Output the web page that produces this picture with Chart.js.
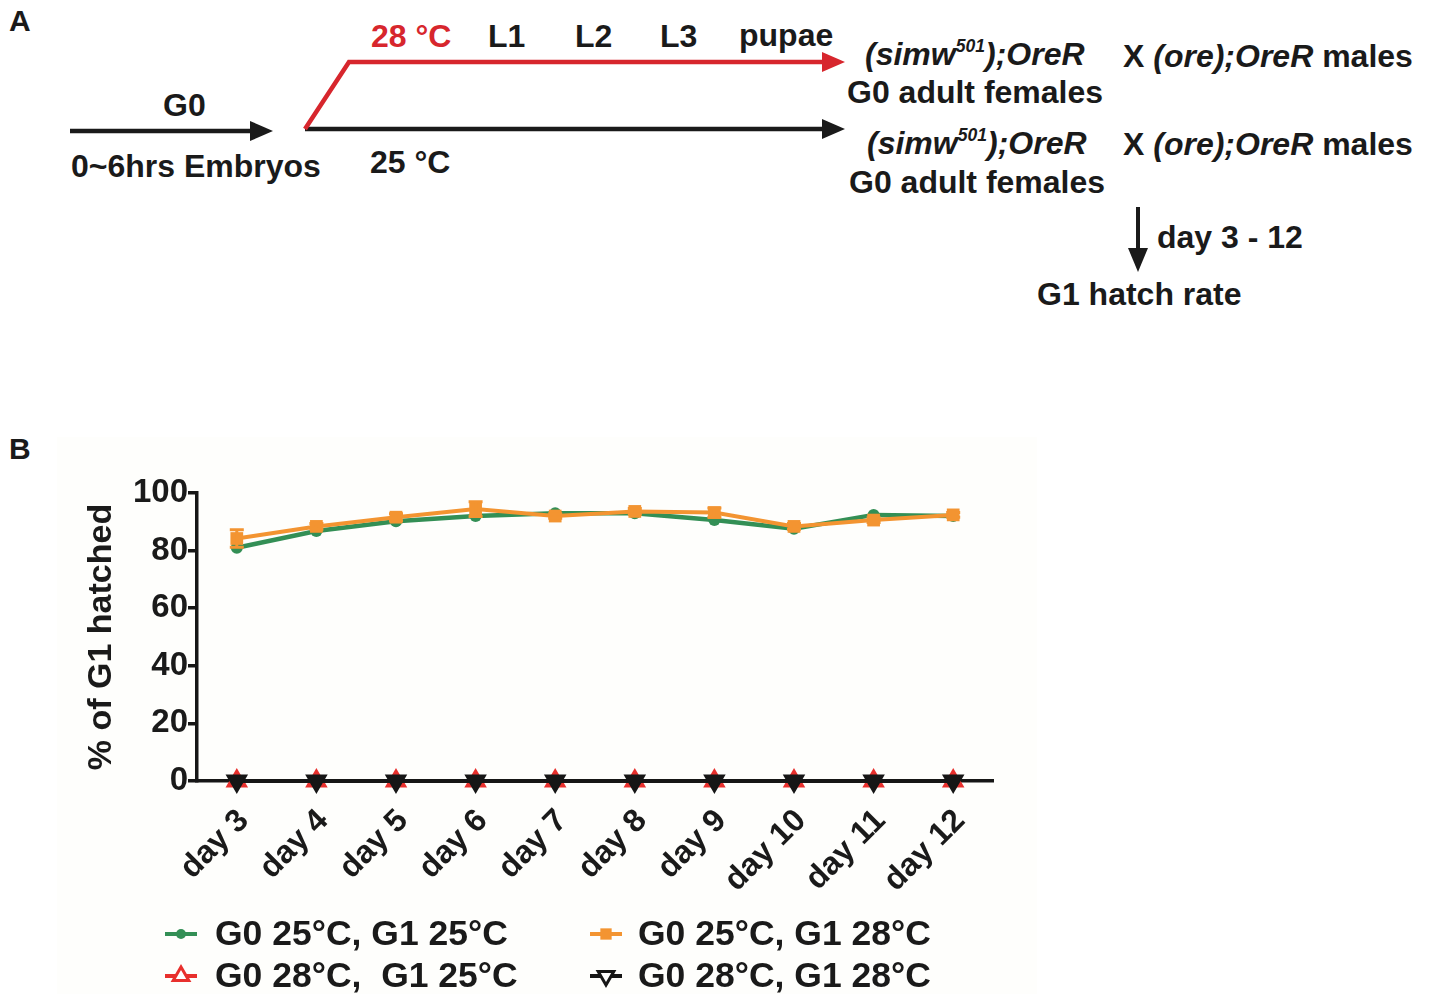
<!DOCTYPE html>
<html>
<head>
<meta charset="utf-8">
<script src="https://cdn.jsdelivr.net/npm/chart.js@4.4.1/dist/chart.umd.min.js"></script>
<style>
  html, body { margin:0; padding:0; background:#fff; }
  body { width:1429px; height:994px; position:relative; overflow:hidden;
         font-family:"Liberation Sans", Arial, sans-serif; font-weight:bold; color:#1a1a1a; }
  .t { position:absolute; white-space:nowrap; line-height:1; font-size:32px; }
  .i { font-style:italic; }
  sup { font-size:0.55em; vertical-align:0.75em; line-height:0; }
  #bg { position:absolute; left:57px; top:437px; width:980px; height:557px; background:#fefefc; }
  #c { position:absolute; left:0; top:440px; }
  svg { position:absolute; left:0; top:0; }
</style>
</head>
<body>
<div id="bg"></div>

<svg width="1429" height="330">
  <line x1="70" y1="131" x2="256" y2="131" stroke="#1a1a1a" stroke-width="4.5"/>
  <polygon points="250,121 273,131 250,141" fill="#1a1a1a"/>
  <line x1="305" y1="129" x2="828" y2="129" stroke="#1a1a1a" stroke-width="4.5"/>
  <polygon points="822,119 845,129 822,139" fill="#1a1a1a"/>
  <polyline points="305,129 349,62 828,62" fill="none" stroke="#d7262d" stroke-width="4.5" stroke-linejoin="miter"/>
  <polygon points="822,52 845,62 822,72" fill="#d7262d"/>
  <line x1="1138" y1="207" x2="1138" y2="255" stroke="#1a1a1a" stroke-width="4"/>
  <polygon points="1128,248 1138,272 1148,248" fill="#1a1a1a"/>
</svg>

<div class="t" style="left:9px;top:6px;font-size:30px;">A</div>
<div class="t" style="left:371px;top:20px;color:#d7262d;">28 °C</div>
<div class="t" style="left:488px;top:20px;">L1</div>
<div class="t" style="left:575px;top:20px;">L2</div>
<div class="t" style="left:660px;top:20px;">L3</div>
<div class="t" style="left:739px;top:19px;">pupae</div>
<div class="t" style="left:163px;top:89px;">G0</div>
<div class="t" style="left:71px;top:150px;">0~6hrs Embryos</div>
<div class="t" style="left:370px;top:146px;">25 °C</div>

<div class="t i" style="left:865px;top:38px;">(simw<sup>501</sup>);OreR</div>
<div class="t" style="left:1123px;top:40px;">X <span class="i">(ore);OreR</span> males</div>
<div class="t" style="left:847px;top:76px;">G0 adult females</div>

<div class="t i" style="left:867px;top:127px;">(simw<sup>501</sup>);OreR</div>
<div class="t" style="left:1123px;top:128px;">X <span class="i">(ore);OreR</span> males</div>
<div class="t" style="left:849px;top:166px;">G0 adult females</div>

<div class="t" style="left:1157px;top:221px;">day 3 - 12</div>
<div class="t" style="left:1037px;top:278px;">G1 hatch rate</div>

<div class="t" style="left:9px;top:434px;font-size:30px;">B</div>

<canvas id="c" width="1020" height="554"></canvas>

<script>
// ---- data ----
const days = ["day 3","day 4","day 5","day 6","day 7","day 8","day 9","day 10","day 11","day 12"];
const g25g25 = [81.0, 86.8, 90.2, 92.0, 93.0, 93.0, 90.6, 87.6, 92.4, 92.0];
const g25g28 = [84.2, 88.4, 91.6, 94.4, 92.0, 93.6, 93.2, 88.4, 90.6, 92.4];
const g25g28Err = [3.0, 1.0, 1.2, 2.6, 0.8, 1.0, 1.6, 1.0, 0.8, 0.8];
const g28g25 = [0, 0, 0, 0, 0, 0, 0, 0, 0, 0];
const g28g28 = [0, 0, 0, 0, 0, 0, 0, 0, 0, 0];
const yTicks = [0, 20, 40, 60, 80, 100];
const seriesLabels = ["G0 25°C, G1 25°C", "G0 25°C, G1 28°C", "G0 28°C,  G1 25°C", "G0 28°C, G1 28°C"];

const GREEN = '#338f55', ORANGE = '#f39431', RED = '#e8302d', BLACK = '#161616';
const FONT = '"Liberation Sans", Arial, sans-serif';

const errorBars = {
  id: 'errorBars',
  afterDatasetsDraw(chart) {
    const ctx = chart.ctx;
    chart.data.datasets.forEach((ds, di) => {
      if (!ds.errors) return;
      const meta = chart.getDatasetMeta(di);
      const ys = chart.scales.y;
      ctx.save();
      ctx.strokeStyle = ds.borderColor;
      ctx.lineWidth = 3;
      meta.data.forEach((pt, i) => {
        const v = ds.data[i], e = ds.errors[i];
        const yt = ys.getPixelForValue(v + e), yb = ys.getPixelForValue(v - e);
        ctx.beginPath();
        ctx.moveTo(pt.x, yt); ctx.lineTo(pt.x, yb);
        ctx.moveTo(pt.x - 7, yt); ctx.lineTo(pt.x + 7, yt);
        ctx.moveTo(pt.x - 7, yb); ctx.lineTo(pt.x + 7, yb);
        ctx.stroke();
      });
      ctx.restore();
    });
  }
};

const legendPlugin = {
  id: 'customLegend',
  afterDraw(chart) {
    const ctx = chart.ctx;
    const slots = [[181, 494, 215], [606, 494, 638], [181, 536, 215], [606, 536, 638]];
    chart.data.datasets.forEach((ds, k) => {
      const [cx, cy, tx] = slots[k];
      const hollow = ds.pointStyle === 'triangle';
      ctx.save();
      ctx.strokeStyle = ds.borderColor;
      ctx.lineWidth = 4;
      ctx.beginPath(); ctx.moveTo(cx - 16, cy); ctx.lineTo(cx + 16, cy); ctx.stroke();
      ctx.fillStyle = hollow ? '#ffffff' : ds.backgroundColor;
      ctx.strokeStyle = ds.borderColor;
      ctx.lineWidth = hollow ? 3 : 0.01;
      Chart.helpers.drawPoint(ctx, {
        pointStyle: ds.pointStyle,
        rotation: ds.rotation || 0,
        radius: ds.pointStyle === 'circle' ? 5 : (hollow ? 9 : 8),
        borderWidth: hollow ? 3 : 0.01
      }, cx, cy);
      ctx.restore();
      ctx.save();
      ctx.fillStyle = '#1a1a1a';
      ctx.font = 'bold 35.5px ' + FONT;
      ctx.textBaseline = 'middle';
      ctx.fillText(ds.label, tx, cy + 1);
      ctx.restore();
    });
  }
};

new Chart(document.getElementById('c'), {
  type: 'line',
  data: {
    labels: days,
    datasets: [
      { label: seriesLabels[0], data: g25g25, borderColor: GREEN, backgroundColor: GREEN,
        pointStyle: 'circle', pointRadius: 6, pointBorderWidth: 0, borderWidth: 4.5, order: 3, clip: false },
      { label: seriesLabels[1], data: g25g28, errors: g25g28Err, borderColor: ORANGE, backgroundColor: ORANGE,
        pointStyle: 'rect', pointRadius: 9, pointBorderWidth: 0, borderWidth: 4, order: 1, clip: false },
      { label: seriesLabels[2], data: g28g25, borderColor: RED, backgroundColor: RED,
        pointStyle: 'triangle', pointRadius: 11, pointBorderWidth: 2, borderWidth: 4, order: 2, clip: false },
      { label: seriesLabels[3], data: g28g28, borderColor: BLACK, backgroundColor: BLACK,
        pointStyle: 'triangle', rotation: 180, pointRotation: 180, pointRadius: 11, pointBorderWidth: 2,
        borderWidth: 4, order: 0, clip: false }
    ]
  },
  options: {
    responsive: false,
    animation: false,
    devicePixelRatio: 1,
    layout: { padding: { left: 0, right: 27, top: 53, bottom: 93 } },
    plugins: { legend: { display: false }, tooltip: { enabled: false } },
    elements: { line: { tension: 0 } },
    scales: {
      x: {
        offset: true,
        grid: { display: false },
        border: { display: true, color: BLACK, width: 3.5 },
        ticks: { color: '#1a1a1a', font: { family: FONT, size: 32, weight: 'bold' },
                 minRotation: 45, maxRotation: 45, padding: 13, labelOffset: 7, autoSkip: false },
        afterFit(s) { s.height = 120; }
      },
      y: {
        min: 0, max: 100,
        afterBuildTicks(s) { s.ticks = yTicks.map(v => ({ value: v })); },
        grid: { display: true, drawOnChartArea: false, drawTicks: true, tickLength: 9,
                color: BLACK, lineWidth: 3.5 },
        border: { display: true, color: BLACK, width: 3.5 },
        ticks: { color: '#1a1a1a', font: { family: FONT, size: 33, weight: 'bold' }, padding: 0 },
        title: { display: true, text: '% of G1 hatched', color: '#1a1a1a',
                 font: { family: FONT, size: 34, weight: 'bold' }, padding: { top: 81, bottom: 0 } },
        afterFit(s) { s.width = 197; }
      }
    }
  },
  plugins: [errorBars, legendPlugin]
});
</script>
</body>
</html>
